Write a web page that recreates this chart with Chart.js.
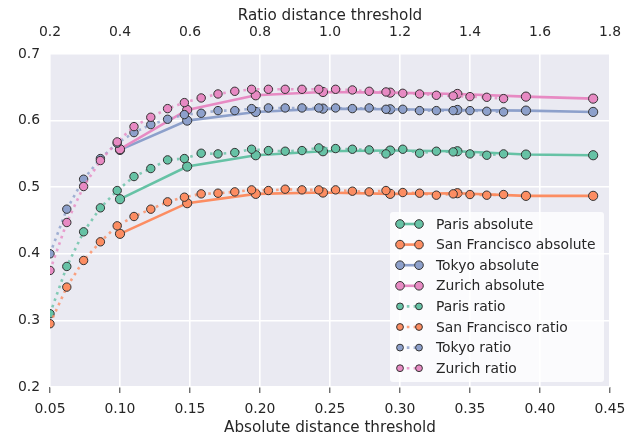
<!DOCTYPE html>
<html>
<head>
<meta charset="utf-8">
<script src="https://cdn.jsdelivr.net/npm/chart.js@4"></script>
<style>
  html, body { margin: 0; padding: 0; background: #fff; }
  #wrap { width: 634px; height: 439px; }
</style>
</head>
<body>
<div id="wrap"><canvas id="myChart" width="634" height="439"></canvas></div>
<script>
// absolute distance thresholds (bottom axis)
const absX = [0.100, 0.148, 0.197, 0.245, 0.293, 0.341, 0.390, 0.438];
// ratio distance thresholds (top axis)
const ratioX = [0.200, 0.248, 0.296, 0.344, 0.392, 0.440, 0.488, 0.536, 0.584, 0.632,
                0.680, 0.728, 0.776, 0.824, 0.872, 0.920, 0.968, 1.016, 1.064, 1.112,
                1.160, 1.208, 1.256, 1.304, 1.352, 1.400, 1.448, 1.496];

const cities = ['Paris', 'San Francisco', 'Tokyo', 'Zurich'];
const colors = ['#66c2a5', '#fc8d62', '#8da0cb', '#e78ac3'];
const colorsFaded = ['rgba(102,194,165,0.8)', 'rgba(252,141,98,0.8)', 'rgba(141,160,203,0.8)', 'rgba(231,138,195,0.8)'];

const parisAbs  = [0.482, 0.531, 0.548, 0.554, 0.555, 0.554, 0.549, 0.548];
const sfAbs     = [0.430, 0.476, 0.490, 0.492, 0.490, 0.491, 0.487, 0.487];
const tokyoAbs  = [0.556, 0.600, 0.613, 0.618, 0.617, 0.616, 0.615, 0.613];
const zurichAbs = [0.557, 0.616, 0.638, 0.643, 0.642, 0.640, 0.636, 0.633];

const parisRatio  = [0.310, 0.381, 0.433, 0.469, 0.495, 0.516, 0.528, 0.541, 0.543, 0.551,
                     0.550, 0.552, 0.557, 0.555, 0.554, 0.555, 0.559, 0.558, 0.557, 0.556,
                     0.550, 0.557, 0.551, 0.554, 0.553, 0.550, 0.548, 0.550];
const sfRatio     = [0.295, 0.350, 0.390, 0.418, 0.442, 0.456, 0.467, 0.478, 0.485, 0.490,
                     0.491, 0.493, 0.496, 0.495, 0.497, 0.496, 0.496, 0.496, 0.494, 0.493,
                     0.495, 0.492, 0.491, 0.488, 0.490, 0.489, 0.488, 0.489];
const tokyoRatio  = [0.400, 0.467, 0.512, 0.543, 0.566, 0.582, 0.594, 0.602, 0.609, 0.611,
                     0.615, 0.615, 0.618, 0.619, 0.619, 0.619, 0.619, 0.619, 0.618, 0.619,
                     0.617, 0.617, 0.615, 0.615, 0.615, 0.615, 0.614, 0.613];
const zurichRatio = [0.375, 0.447, 0.501, 0.540, 0.568, 0.591, 0.605, 0.618, 0.627, 0.634,
                     0.640, 0.644, 0.647, 0.647, 0.647, 0.647, 0.647, 0.647, 0.646, 0.644,
                     0.643, 0.641, 0.640, 0.638, 0.637, 0.636, 0.635, 0.633];

const xTicks = [0.05, 0.10, 0.15, 0.20, 0.25, 0.30, 0.35, 0.40, 0.45];
const x2Ticks = [0.2, 0.4, 0.6, 0.8, 1.0, 1.2, 1.4, 1.6, 1.8];
const yTicks = [0.2, 0.3, 0.4, 0.5, 0.6, 0.7];

const absSeries = [parisAbs, sfAbs, tokyoAbs, zurichAbs];
const ratioSeries = [parisRatio, sfRatio, tokyoRatio, zurichRatio];

const FONT = 'DejaVu Sans';
const TEXT = '#262626';

function pts(xs, ys) {
    return xs.map((x, i) => ({x: x, y: ys[i]}));
}

const datasets = [];
absSeries.forEach((s, i) => {
    datasets.push({
        label: cities[i] + ' absolute',
        data: pts(absX, s),
        xAxisID: 'x',
        borderColor: colors[i],
        backgroundColor: colors[i],
        borderWidth: 2.6,
        pointRadius: 4.6,
        pointBorderColor: '#333',
        pointBorderWidth: 1,
        pointBackgroundColor: colors[i],
        tension: 0,
        clip: 0,
        order: 8 - i,
        kind: 'abs'
    });
});
ratioSeries.forEach((s, i) => {
    datasets.push({
        label: cities[i] + ' ratio',
        data: pts(ratioX, s),
        xAxisID: 'x2',
        borderColor: colorsFaded[i],
        backgroundColor: colors[i],
        borderWidth: 2.6,
        borderDash: [2.6, 4.2],
        pointRadius: 4.2,
        pointBorderColor: '#333',
        pointBorderWidth: 1,
        pointBackgroundColor: colors[i],
        tension: 0,
        clip: 0,
        order: 4 - i,
        kind: 'ratio'
    });
});

const bgPlugin = {
    id: 'bg',
    beforeDraw(chart) {
        const {ctx, chartArea: a} = chart;
        ctx.save();
        ctx.fillStyle = '#eaeaf2';
        ctx.fillRect(a.left, a.top, a.right - a.left, a.bottom - a.top);
        ctx.restore();
    }
};

// matplotlib style legend in the lower right corner
const legendPlugin = {
    id: 'mplLegend',
    afterDraw(chart) {
        const ctx = chart.ctx;
        const bx = 390, by = 212, bw = 214, bh = 170;
        ctx.save();
        ctx.fillStyle = 'rgba(255,255,255,0.8)';
        ctx.beginPath();
        ctx.roundRect(bx, by, bw, bh, 3);
        ctx.fill();
        chart.data.datasets.forEach((ds, i) => {
            const y = 224 + i * 20.6;
            const x1 = 400, x2 = 419;
            ctx.strokeStyle = ds.borderColor;
            ctx.lineWidth = ds.borderWidth;
            ctx.setLineDash(ds.borderDash || []);
            ctx.beginPath();
            ctx.moveTo(x1, y);
            ctx.lineTo(x2, y);
            ctx.stroke();
            ctx.setLineDash([]);
            [x1, x2].forEach(px => {
                ctx.beginPath();
                ctx.arc(px, y, ds.kind === 'abs' ? 4.3 : 3.4, 0, Math.PI * 2);
                ctx.fillStyle = ds.pointBackgroundColor;
                ctx.fill();
                ctx.lineWidth = 1;
                ctx.strokeStyle = '#333';
                ctx.stroke();
            });
            ctx.fillStyle = TEXT;
            ctx.font = '13.9px "' + FONT + '"';
            ctx.textBaseline = 'middle';
            ctx.textAlign = 'left';
            ctx.fillText(ds.label, 436, y + 1);
        });
        ctx.restore();
    }
};

const ctx = document.getElementById('myChart');

var myChart = new Chart(ctx, {
    type: 'line',
    data: { datasets: datasets },
    plugins: [bgPlugin, legendPlugin],
    options: {
        responsive: false,
        animation: false,
        layout: { padding: { left: 0, right: 24, top: 0, bottom: 0 } },
        plugins: {
            legend: { display: false },
            tooltip: { enabled: false }
        },
        scales: {
            x: {
                type: 'linear',
                position: 'bottom',
                min: 0.05,
                max: 0.45,
                afterBuildTicks(scale) { scale.ticks = xTicks.map(v => ({value: v})); },
                afterFit(scale) { scale.height = 52; },
                ticks: {
                    color: TEXT,
                    padding: 8,
                    maxRotation: 0,
                    font: { family: FONT, size: 13.9 },
                    callback: v => v.toFixed(2)
                },
                grid: {
                    color: '#ffffff',
                    lineWidth: 1.6,
                    drawTicks: true,
                    tickLength: 6,
                    tickColor: '#333333',
                    tickWidth: 1
                },
                border: { display: false },
                title: {
                    display: true,
                    text: 'Absolute distance threshold',
                    color: TEXT,
                    font: { family: FONT, size: 15.2 },
                    padding: { top: 0, bottom: 2 }
                }
            },
            x2: {
                type: 'linear',
                position: 'top',
                min: 0.2,
                max: 1.8,
                afterBuildTicks(scale) { scale.ticks = x2Ticks.map(v => ({value: v})); },
                afterFit(scale) { scale.height = 54; },
                ticks: {
                    color: TEXT,
                    padding: 13,
                    maxRotation: 0,
                    font: { family: FONT, size: 13.9 },
                    callback: v => v.toFixed(1)
                },
                grid: { display: false, drawTicks: false },
                border: { display: false },
                title: {
                    display: true,
                    text: 'Ratio distance threshold',
                    color: TEXT,
                    font: { family: FONT, size: 15.2 },
                    padding: { top: 7, bottom: 0 }
                }
            },
            y: {
                type: 'linear',
                min: 0.2,
                max: 0.7,
                afterBuildTicks(scale) { scale.ticks = yTicks.map(v => ({value: v})); },
                afterFit(scale) { scale.width = 50; },
                ticks: {
                    color: TEXT,
                    padding: 10,
                    font: { family: FONT, size: 13.9 },
                    callback: v => v.toFixed(1)
                },
                grid: {
                    color: '#ffffff',
                    lineWidth: 1.6,
                    drawTicks: false
                },
                border: { display: false }
            }
        }
    }
});
</script>
</body>
</html>
